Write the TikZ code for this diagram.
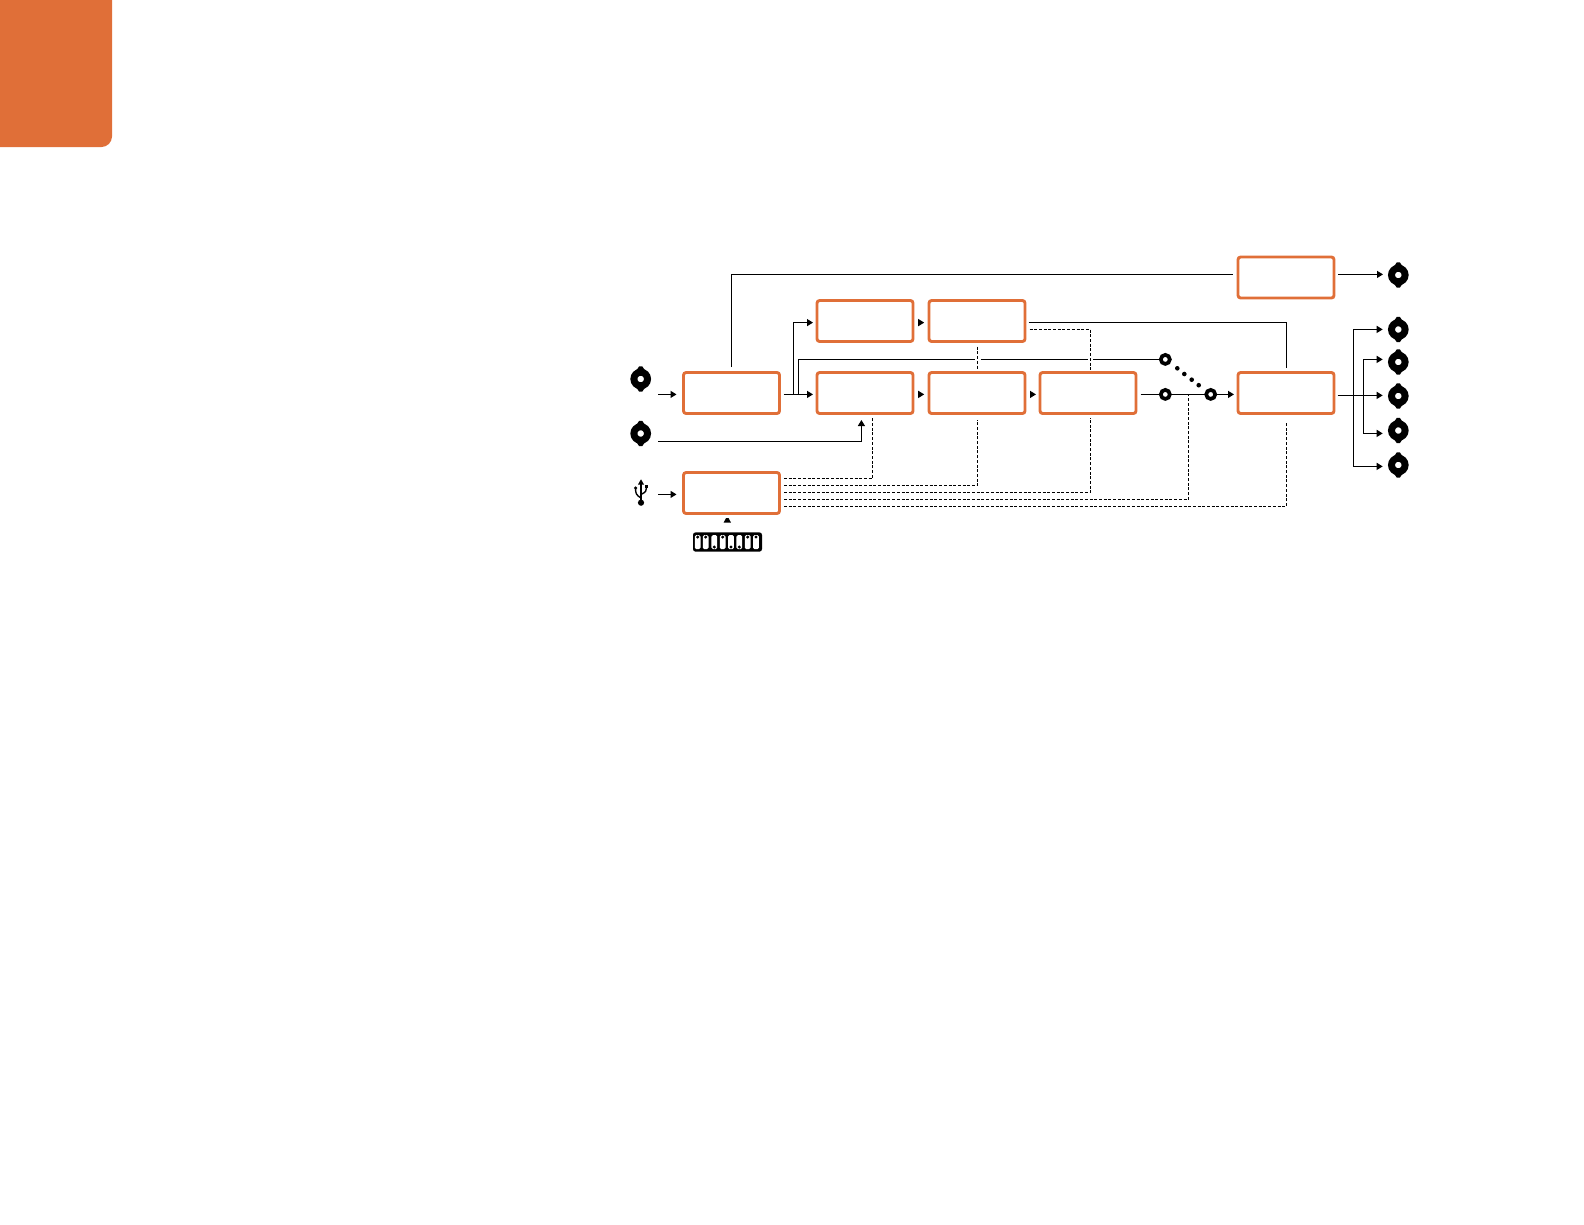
\documentclass[tikz,border=0pt]{standalone}
\usetikzlibrary{arrows.meta,calc}
\definecolor{bmorange}{HTML}{E06F38}
\tikzset{
  x=1pt,y=-1pt,
  block/.style={draw=bmorange,line width=2.9pt,rounded corners=2.6pt,fill=white,minimum width=96pt,minimum height=41pt,inner sep=0pt,outer sep=0pt},
  wire/.style={line width=1.15pt,draw=black},
  arrowed/.style={wire,-{Triangle[length=6pt,width=7pt]}},
  ctrl/.style={line width=1.05pt,draw=black,dash pattern=on 3pt off 1.7pt},
  bnc/.style={circle,draw=black,fill=white,line width=7pt,minimum size=13.6pt,inner sep=0pt,outer sep=0pt},
  swring/.style={circle,draw=black,fill=white,line width=3.7pt,minimum size=9pt,inner sep=0pt,outer sep=0pt},
  swdot/.style={circle,fill=black,minimum size=4.6pt,inner sep=0pt,outer sep=0pt},
  slot/.style={fill=white,rounded corners=1.6pt},
}
\newcommand{\bncat}[3]{%
  \fill[shift={(#2,#3)}] (-4,-9) -- (-1.5,-12.7) -- (1.5,-12.7) -- (4,-9) -- cycle
    (-4,9) -- (-1.5,12.7) -- (1.5,12.7) -- (4,9) -- cycle;
  \node[bnc] (#1) at (#2,#3) {};
}
\begin{document}
\begin{tikzpicture}
\useasboundingbox (0,0) rectangle (1584,1224);

% corner tab
\fill[bmorange] (0,0) -- (112,0) -- (112,136.5) arc[start angle=0,end angle=90,radius=10.5pt,y radius=-10.5pt] -- (0,147) -- cycle;

% blocks
\node[block] (ing)  at (731.5,393) {};
\node[block] (ctl)  at (731.5,493) {};
\node[block] (b1)   at (865,393) {};
\node[block] (b2)   at (977,393) {};
\node[block] (b3)   at (1088,393) {};
\node[block] (t1)   at (865,321) {};
\node[block] (t2)   at (977,321) {};
\node[block] (top)  at (1286,277.5) {};
\node[block] (outb) at (1286,393) {};

% connectors (free ends named)
\coordinate (inA) at (658,394.4);   \coordinate (inAe) at (676.5,394.4);
\coordinate (inB) at (658,441.4); \coordinate (inBe) at (861.4,420);
\coordinate (inU) at (658,494.4);   \coordinate (inUe) at (676.5,494.4);
\coordinate (ingo) at (783.5,394.4); \coordinate (b1i) at (813,394.4);
\coordinate (t1i) at (813,322.6);
\coordinate (tapx) at (731.4,367);
\coordinate (tope) at (1233,274.4);
\coordinate (tapy) at (1286.4,368);
\coordinate (t2o) at (1028.5,322.6);
\coordinate (topo) at (1338,274.4);
\coordinate (b3o) at (1140.7,394.4);
\coordinate (oute) at (1234,394.4);
\coordinate (outo) at (1337.7,395.4);

\draw[wire] (tapx) -- (tapx |- tope) -- (tope);
\draw[wire] (t2o) -- (tapy |- t2o) -- (tapy);
\draw[arrowed] (topo) -- (1383,274.4);
\draw[arrowed] (inA) -- (inAe);
\draw[arrowed] (inB) -| (inBe);
\draw[arrowed] (inU) -- (inUe);
\draw[arrowed] (ingo) -- (b1i);
\draw[arrowed] (793.4,394.4) |- (t1i);

% link to the upper switch contact, broken at the control crossings
\coordinate (g1a) at (975,359.4); \coordinate (g1b) at (980.6,359.4);
\coordinate (g2a) at (1087.6,359.4); \coordinate (g2b) at (1093,359.4);
\draw[wire] (798.4,394.4) |- (g1a);
\draw[wire] (g1b) -- (g2a);
\draw[wire] (g2b) -- (1165.3,359.4);

% between blocks
\foreach \xa/\ya in {918.2/322.6,918.2/394.4,1030/394.4}
  \draw[arrowed] (\xa,\ya) -- ++(6,0);

% control lines
\draw[ctrl] (784,478.4) -| (872.6,418);
\draw[ctrl] (784,485.4) -| (977.6,420);
\draw[ctrl] (784,492.4) -| (1090.4,418);
\draw[ctrl] (784,499.4) -| (1188.6,394.4);
\draw[ctrl] (784,506.4) -| (1286.4,421.7);
\draw[ctrl] (977.6,346.7) -- (977.6,369.5);
\draw[ctrl] (1029.5,329.4) -| (1090.4,369.5);

% switch
\draw[wire] (b3o) -- (1210.7,394.4);
\draw[arrowed] (1210.7,394.4) -- (oute);
\node[swring] (sw1) at (1165.3,359.4) {};
\node[swring] (sw2) at (1165.3,394.4) {};
\node[swring] (sw3) at (1210.7,394.4) {};
\node[swdot] (d1) at (1177.3,368.3) {};
\node[swdot] (d2) at (1184.3,374) {};
\node[swdot] (d3) at (1191.7,379.7) {};
\node[swdot] (d4) at (1198.7,385.2) {};

% outputs
\coordinate (o1) at (1382.7,329.4);
\coordinate (o2) at (1382.7,359.4);
\coordinate (o3) at (1382.7,395.4);
\coordinate (o4) at (1382.7,433.4);
\coordinate (o5) at (1382.7,466.4);
\draw[arrowed] (outo) -- (o3);
\draw[arrowed] (1353.4,395.4) |- (o1);
\draw[arrowed] (1353.4,395.4) |- (o5);
\draw[arrowed] (1363.6,395.4) |- (o2);
\draw[arrowed] (1363.6,395.4) |- (o4);

% BNC connectors
\bncat{bA}{640.7}{379}
\bncat{bB}{640.7}{433.5}
\bncat{bT}{1398.3}{275}
\bncat{bO1}{1398.3}{329.5}
\bncat{bO2}{1398.3}{362}
\bncat{bO3}{1398.3}{396}
\bncat{bO4}{1398.3}{430.5}
\bncat{bO5}{1398.3}{465}

% USB symbol
\draw[wire,line width=1.4pt] (641,483) -- (641,502);
\fill (641,479.3) -- (644,484.5) -- (638,484.5) -- cycle;
\fill (641,502.7) circle[radius=3.1pt];
\draw[wire,line width=1.4pt] (641,498) .. controls (636,495) and (635.6,493) .. (635.6,489);
\draw[wire,line width=1.4pt] (641,494.5) .. controls (646,492) and (646.6,490.5) .. (646.6,487);
\fill (635.6,488) circle[radius=1.7pt];
\fill (644.9,484.8) rectangle (648.4,488.2);

% DIP switches
\fill (723.6,522.6) -- (726,518.2) -- (728.6,518.2) -- (731,522.6) -- cycle;
\fill[rounded corners=2.5pt] (693,532.4) rectangle (762,551.6);
\foreach \xc/\yd in {697.7/537,705.7/537,714.3/547,722.7/537,731/547,739.3/547,747.7/537,756/537}{
  \fill[slot] (\xc-2.9,535) rectangle (\xc+2.9,549.2);
  \fill (\xc,\yd) circle[radius=1.7pt];
}
\end{tikzpicture}
\end{document}
